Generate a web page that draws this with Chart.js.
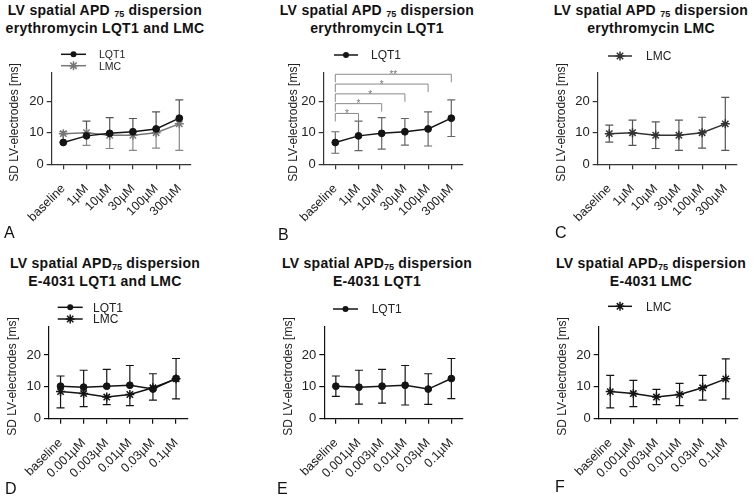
<!DOCTYPE html>
<html>
<head>
<meta charset="utf-8">
<script src="https://cdn.jsdelivr.net/npm/chart.js@4/dist/chart.umd.min.js"></script>
<style>
  body { margin: 0; background: #fff; width: 754px; height: 498px; position: relative; overflow: hidden;
         font-family: "Liberation Sans", Arial, sans-serif; }
  canvas { position: absolute; }
  .ttl { position: absolute; width: 250px; text-align: center; font-weight: bold; font-size: 14px;
         line-height: 18px; letter-spacing: 0.3px; color: #111; }
  .ttl sub { font-size: 9px; vertical-align: -2px; line-height: 0; letter-spacing: 0; }
  .lt { position: absolute; font-size: 16px; line-height: 16px; color: #111; }
</style>
</head>
<body>
<div class="ttl" style="left:-20px;top:1px">LV spatial APD <sub>75</sub> dispersion<br>erythromycin LQT1 and LMC</div>
<div class="ttl" style="left:252px;top:1px">LV spatial APD <sub>75</sub> dispersion<br>erythromycin LQT1</div>
<div class="ttl" style="left:526px;top:1px">LV spatial APD <sub>75</sub> dispersion<br>erythromycin LMC</div>
<div class="ttl" style="left:-20px;top:254px">LV spatial APD<sub>75</sub> dispersion<br>E-4031 LQT1 and LMC</div>
<div class="ttl" style="left:252px;top:254px">LV spatial APD<sub>75</sub> dispersion<br>E-4031 LQT1</div>
<div class="ttl" style="left:526px;top:254px">LV spatial APD<sub>75</sub> dispersion<br>E-4031 LMC</div>

<canvas id="cA" width="251" height="249" style="left:0;top:0"></canvas>
<canvas id="cB" width="251" height="249" style="left:251px;top:0"></canvas>
<canvas id="cC" width="252" height="249" style="left:502px;top:0"></canvas>
<canvas id="cD" width="251" height="249" style="left:0;top:249px"></canvas>
<canvas id="cE" width="251" height="249" style="left:251px;top:249px"></canvas>
<canvas id="cF" width="252" height="249" style="left:502px;top:249px"></canvas>

<div class="lt" style="left:4px;top:225px">A</div>
<div class="lt" style="left:278px;top:227px">B</div>
<div class="lt" style="left:555px;top:225px">C</div>
<div class="lt" style="left:5px;top:481px">D</div>
<div class="lt" style="left:277px;top:481px">E</div>
<div class="lt" style="left:555px;top:479px">F</div>

<script>
// data
const eryLabels = ['baseline', '1µM', '10µM', '30µM', '100µM', '300µM'];
const e4031Labels = ['baseline', '0.001µM', '0.003µM', '0.01µM', '0.03µM', '0.1µM'];

const eryLQT1 = [6.9, 9.0, 9.8, 10.3, 11.2, 14.6];
const eryLQT1Sd = [3.4, 4.7, 5.0, 4.2, 5.4, 5.8];
const eryLMC = [9.7, 10.0, 9.2, 9.2, 10.0, 12.8];
const eryLMCSd = [2.7, 4.0, 4.2, 4.8, 4.9, 8.4];

const e4LQT1 = [10.2, 9.9, 10.2, 10.5, 9.3, 12.6];
const e4LQT1Sd = [3.2, 5.3, 5.3, 6.2, 4.8, 6.3];
const e4LMC = [8.5, 7.9, 6.8, 7.6, 9.7, 12.5];
const e4LMCSd = [5.1, 4.1, 2.4, 3.5, 3.9, 6.3];

// significance vs baseline (erythromycin LQT1)
const sigMarks = ['*', '*', '*', '*', '**'];
const yTicks = [0, 10, 20];
const yMax = 29;
const yTitle = 'SD LV-electrodes [ms]';

Chart.defaults.font.family = '"Liberation Sans", Arial, sans-serif';

function marker(ctx, style, r, x, y) {
    ctx.beginPath();
    if (style === 'star') {
        for (let k = 0; k < 4; k++) {
            const a = k * Math.PI / 4;
            ctx.moveTo(x - Math.cos(a) * r, y - Math.sin(a) * r);
            ctx.lineTo(x + Math.cos(a) * r, y + Math.sin(a) * r);
        }
        ctx.stroke();
    } else {
        ctx.arc(x, y, r, 0, Math.PI * 2);
        ctx.fill();
    }
}

// error bars, drawn under the points
const errorBars = {
    id: 'errorBars',
    beforeDatasetsDraw(chart) {
        const {ctx, scales: {x, y}} = chart;
        chart.data.datasets.forEach(ds => {
            ctx.save();
            ctx.strokeStyle = ds.errColor;
            ctx.lineWidth = 1.2;
            ds.data.forEach((v, j) => {
                const px = x.getPixelForValue(j);
                const py = y.getPixelForValue(v);
                const ends = [];
                if (ds.errDir !== 'down') ends.push(y.getPixelForValue(v + ds.sd[j]));
                if (ds.errDir !== 'up') ends.push(y.getPixelForValue(v - ds.sd[j]));
                ends.forEach(e => {
                    ctx.beginPath();
                    ctx.moveTo(px, py); ctx.lineTo(px, e);
                    ctx.moveTo(px - 4, e); ctx.lineTo(px + 4, e);
                    ctx.stroke();
                });
            });
            ctx.restore();
        });
    }
};

// little legend with a line through the marker + y axis title
const miniLegend = {
    id: 'miniLegend',
    afterDraw(chart, args, opts) {
        const ctx = chart.ctx;
        const area = chart.chartArea;
        ctx.save();
        ctx.fillStyle = '#222';
        ctx.font = '12px "Liberation Sans", Arial, sans-serif';
        ctx.textAlign = 'center';
        ctx.textBaseline = 'middle';
        ctx.translate(opts.titleX, (area.top + area.bottom) / 2 + 4);
        ctx.rotate(-Math.PI / 2);
        ctx.fillText(yTitle, 0, 0);
        ctx.restore();

        ctx.save();
        chart.data.datasets.forEach((ds, i) => {
            const it = opts.items[i];
            ctx.strokeStyle = ds.borderColor;
            ctx.fillStyle = ds.borderColor;
            ctx.lineWidth = 1.5;
            ctx.beginPath();
            ctx.moveTo(it.x1, it.y); ctx.lineTo(it.x2, it.y);
            ctx.stroke();
            marker(ctx, ds.pointStyle, ds.pointStyle === 'star' ? 4.5 : 3, (it.x1 + it.x2) / 2, it.y);
            ctx.fillStyle = '#222';
            ctx.font = opts.size + 'px "Liberation Sans", Arial, sans-serif';
            ctx.textBaseline = 'middle';
            ctx.fillText(ds.label, it.tx, it.y + 1);
        });
        ctx.restore();
    }
};

// brackets for the comparisons with baseline
const sigBrackets = {
    id: 'sigBrackets',
    afterDatasetsDraw(chart, args, opts) {
        if (!opts.marks) return;
        const {ctx, scales: {x, y}} = chart;
        ctx.save();
        ctx.strokeStyle = '#8a8a8a';
        ctx.fillStyle = '#777';
        ctx.lineWidth = 1;
        ctx.font = '10px "Liberation Sans", Arial, sans-serif';
        ctx.textAlign = 'center';
        ctx.textBaseline = 'bottom';
        opts.marks.forEach((m, k) => {
            const x0 = x.getPixelForValue(0);
            const x1 = x.getPixelForValue(k + 1);
            const yy = y.getPixelForValue(opts.base + k * opts.step);
            ctx.beginPath();
            ctx.moveTo(x0, yy + 8); ctx.lineTo(x0, yy); ctx.lineTo(x1, yy); ctx.lineTo(x1, yy + 8);
            ctx.stroke();
            ctx.fillText(m, (x0 + x1) / 2, yy + 6);
        });
        ctx.restore();
    }
};

function series(label, data, sd, style, color, errColor, errDir) {
    return {
        label: label, data: data, sd: sd, errDir: errDir, errColor: errColor,
        borderColor: color, backgroundColor: color, borderWidth: 1.5,
        pointStyle: style, pointRadius: style === 'star' ? 4.5 : 3.4,
        pointBorderWidth: style === 'star' ? 1.5 : 1,
        pointBackgroundColor: color, pointBorderColor: color, tension: 0
    };
}

function makeChart(id, labels, datasets, p) {
    const axisColor = p.axis;
    return new Chart(document.getElementById(id), {
        type: 'line',
        data: {labels: labels, datasets: datasets},
        options: {
            responsive: false,
            animation: false,
            devicePixelRatio: 1,
            layout: {padding: {left: p.padL, right: p.padR, top: p.top, bottom: p.padB}},
            plugins: {
                legend: {display: false},
                tooltip: {enabled: false},
                miniLegend: {items: p.legend, size: p.legSize, titleX: p.titleX},
                sigBrackets: {marks: p.marks, base: 16.1, step: 3.1}
            },
            scales: {
                x: {
                    type: 'category',
                    offset: true,
                    afterFit: s => { s.height = 70; },
                    grid: {offset: false, drawOnChartArea: false, tickLength: 5, color: axisColor, lineWidth: 1.2},
                    border: {color: axisColor, width: 1.2},
                    ticks: {minRotation: 45, maxRotation: 45, padding: 12, color: '#222', font: {size: 12.5}, autoSkip: false}
                },
                y: {
                    min: 0, max: yMax,
                    afterBuildTicks: s => { s.ticks = yTicks.map(v => ({value: v})); },
                    afterFit: s => { s.width = p.yW; },
                    grid: {drawOnChartArea: false, tickLength: 5, color: axisColor, lineWidth: 1.2},
                    border: {color: axisColor, width: 1.2},
                    ticks: {padding: 3, color: '#222', font: {size: 13}}
                }
            }
        },
        plugins: [errorBars, sigBrackets, miniLegend]
    });
}

const dark = '#141414';

makeChart('cA', eryLabels, [
    series('LQT1', eryLQT1, eryLQT1Sd, 'circle', dark, '#555', 'up'),
    series('LMC', eryLMC, eryLMCSd, 'star', '#777', '#888', 'down')
], {padL: 7, yW: 44.7, padR: 60.1, top: 72.7, padB: 14.7, axis: '#333', legSize: 10.5, titleX: 15,
    legend: [{x1: 61, x2: 86, y: 54.3, tx: 99}, {x1: 61, x2: 86, y: 65.7, tx: 99}]});

makeChart('cB', eryLabels, [
    series('LQT1', eryLQT1, eryLQT1Sd, 'circle', dark, '#666', 'both')
], {padL: 35, yW: 37.7, padR: 39.1, top: 72.7, padB: 14.7, axis: '#333', legSize: 12, titleX: 42.7, marks: sigMarks,
    legend: [{x1: 83, x2: 107, y: 55, tx: 120}]});

makeChart('cC', eryLabels, [
    series('LMC', eryLMC, eryLMCSd, 'star', '#333', '#555', 'both')
], {padL: 52, yW: 43.7, padR: 17.1, top: 72.7, padB: 14.7, axis: '#333', legSize: 12, titleX: 59.7,
    legend: [{x1: 106, x2: 130, y: 56, tx: 144}]});

makeChart('cD', e4031Labels, [
    series('LQT1', e4LQT1, e4LQT1Sd, 'circle', dark, dark, 'up'),
    series('LMC', e4LMC, e4LMCSd, 'star', dark, dark, 'down')
], {padL: 5, yW: 44, padR: 63.4, top: 77.3, padB: 9.3, axis: '#111', legSize: 12, titleX: 12.8,
    legend: [{x1: 57.7, x2: 82.7, y: 58.3, tx: 93}, {x1: 57.7, x2: 82.7, y: 70, tx: 93}]});

makeChart('cE', e4031Labels, [
    series('LQT1', e4LQT1, e4LQT1Sd, 'circle', dark, dark, 'both')
], {padL: 30, yW: 43.3, padR: 39.1, top: 77.3, padB: 9.3, axis: '#111', legSize: 12, titleX: 37.5,
    legend: [{x1: 82, x2: 107, y: 60, tx: 120.7}]});

makeChart('cF', e4031Labels, [
    series('LMC', e4LMC, e4LMCSd, 'star', dark, dark, 'both')
], {padL: 53, yW: 43.7, padR: 16.7, top: 77.3, padB: 9.3, axis: '#111', legSize: 12, titleX: 60.5,
    legend: [{x1: 106, x2: 130, y: 57.3, tx: 144}]});
</script>
</body>
</html>
